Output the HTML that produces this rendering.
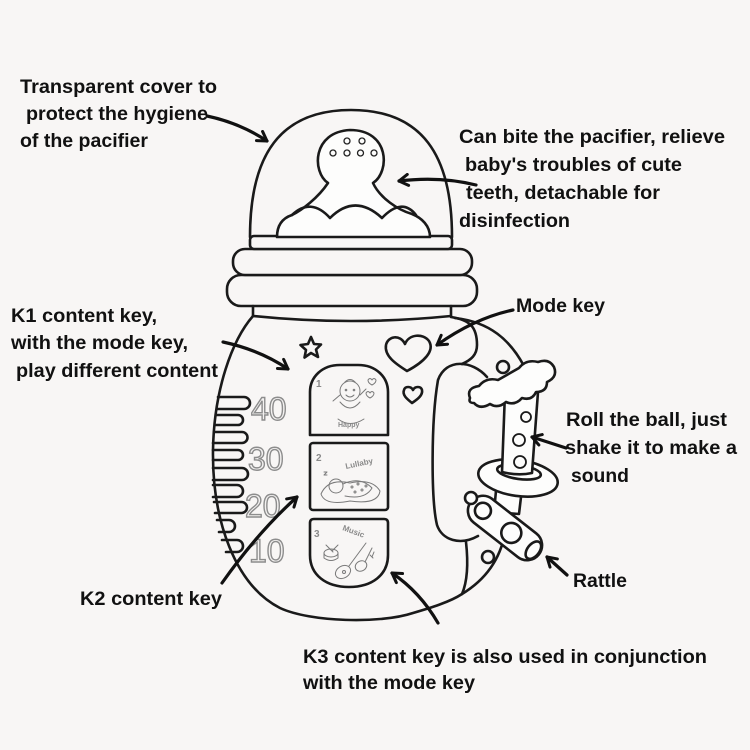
<!DOCTYPE html>
<html>
<head>
<meta charset="utf-8">
<style>
  html,body{margin:0;padding:0;background:#f8f6f5;}
  svg{display:block;}
  .t{font-family:"Liberation Sans",Arial,sans-serif;font-weight:bold;font-size:19.5px;fill:#111;}
  .o{fill:none;stroke:#1a1a1a;stroke-width:2.6;stroke-linecap:round;stroke-linejoin:round;}
  .w{fill:#fdfdfc;stroke:#1a1a1a;stroke-width:2.6;stroke-linejoin:round;}
  .b{fill:#f8f6f5;stroke:#1a1a1a;stroke-width:2.6;stroke-linejoin:round;}
  .a{fill:none;stroke:#111;stroke-width:3.2;stroke-linecap:round;}
  .g{fill:none;stroke:#7a7a7a;stroke-width:1;stroke-linecap:round;stroke-linejoin:round;}
  .gt{font-family:"Liberation Sans",Arial,sans-serif;font-weight:bold;fill:#8a8a8a;}
  .num{font-family:"Liberation Sans",Arial,sans-serif;font-size:32px;fill:#f4f2f1;stroke:#8d8d8d;stroke-width:1.4;}
</style>
</head>
<body>
<svg width="750" height="750" viewBox="0 0 750 750" xmlns="http://www.w3.org/2000/svg">
  <defs>
    <marker id="ah" viewBox="0 0 14 14" refX="11" refY="7" markerWidth="14" markerHeight="14" markerUnits="userSpaceOnUse" orient="auto">
      <path d="M2,1.5 L11,7 L2,12.5" fill="none" stroke="#111" stroke-width="3" stroke-linecap="round" stroke-linejoin="round"/>
    </marker>
  </defs>
  <rect width="750" height="750" fill="#f8f6f5"/>

  <!-- ===== Cap rings ===== -->
  <rect class="b" x="227" y="275" width="250" height="31" rx="14"/>
  <rect class="b" x="233" y="249" width="239" height="26" rx="12"/>
  <rect class="b" x="250" y="236" width="202" height="13" rx="4"/>

  <!-- Dome -->
  <path class="o" d="M250,237 C250,155 280,110 351,110 C422,110 452,155 452,237"/>

  <!-- Pacifier -->
  <path class="w" d="M277,237 C277,225 283,218 292,215 C302,210 318,198 328,183 C312,172 312,132 350,130 C390,130 390,172 373,183 C380,198 398,210 412,214 C422,218 430,226 430,237 Z"/>
  <path class="o" d="M292,215 Q311,197 330,218 M330,218 Q355,193 382,218 M382,218 Q402,197 416,215"/>
  <g fill="none" stroke="#222" stroke-width="1.3">
    <circle cx="347" cy="141" r="3"/><circle cx="362" cy="141" r="3"/>
    <circle cx="333" cy="153" r="3"/><circle cx="347" cy="153" r="3"/>
    <circle cx="360.5" cy="153" r="3"/><circle cx="374" cy="153" r="3"/>
  </g>

  <!-- Neck -->
  <path class="o" d="M253,306 V316 M451,306 V316"/>
  <path class="o" d="M253,316 Q350,326 451,316"/>

  <!-- ===== Body ===== -->
  <path class="o" d="M253,316 C232,340 214,390 213,450 C212,520 235,585 280,608 C310,622 380,624 413,613 C430,608 450,602 462,594 C485,580 500,560 505,533"/>
  <!-- body right edge upper -->
  <path class="o" d="M451,317 C470,320 477,327 477,345 C477,355 471,360 462,364"/>
  <!-- handle outer upper -->
  <path class="o" d="M455,318 C490,322 510,340 524,366"/>
  <!-- handle hole -->
  <path class="o" d="M487,377 C472,360 446,358 438,380 C431,420 431,500 437,525 C442,540 460,546 478,536"/>
  <!-- body right edge lower -->
  <path class="o" d="M466,542 C468,560 468,580 462,594"/>
  <circle class="o" cx="488" cy="557" r="6"/>

  <!-- scale ticks -->
  <g class="o" stroke-width="2.2">
    <path d="M218,397 H244 A6,6 0 0 1 244,409 H217"/>
    <path d="M216,415 H238 A5,5 0 0 1 238,425 H215"/>
    <path d="M214,432 H242 A5.5,5.5 0 0 1 242,443 H213"/>
    <path d="M213,450 H238 A5,5 0 0 1 238,460 H213"/>
    <path d="M213,468 H242 A6,6 0 0 1 242,480 H213"/>
    <path d="M213,485 H237 A6,6 0 0 1 237,497 H213"/>
    <path d="M214,502 H241.5 A5.5,5.5 0 0 1 241.5,513 H215"/>
    <path d="M217,520 H229 A6,6 0 0 1 229,532 H219"/>
    <path d="M222,540 H237 A6,6 0 0 1 237,552 H226"/>
  </g>
  <text class="num" x="251" y="420">40</text>
  <text class="num" x="248" y="470">30</text>
  <text class="num" x="245" y="517">20</text>
  <text class="num" x="249" y="562">10</text>

  <!-- star -->
  <path class="o" stroke-width="2" d="M311,337 L314,344 L321,344.5 L316,349.5 L318,357 L311,353 L304.5,357.5 L306,350 L300.5,345 L308,344 Z"/>
  <!-- hearts -->
  <path class="o" d="M407,371 C396,364 384,356 386,345 C388,336 400,334 405,344 C409,334 423,333 429,341 C435,351 424,362 407,371 Z"/>
  <path class="o" stroke-width="2" d="M412,403 C407,399 402,395 404,390 C405,386 411,386 413,390 C415,386 421,386 422,390 C423,395 418,399 412,403 Z"/>

  <!-- ===== Key panels ===== -->
  <path class="o" d="M310,435 V392 C310,377 322,365 340,365 H358 C376,365 388,377 388,392 V435 Z"/>
  <rect class="o" x="310" y="443" width="78" height="67" rx="3"/>
  <path class="o" d="M310,523 Q310,519 314,519 H384 Q388,519 388,523 V555 C388,575 372,587 349,587 C326,587 310,575 310,555 Z"/>

  <!-- panel 1 icon -->
  <text class="gt" x="316" y="387" font-size="10">1</text>
  <g class="g">
    <circle cx="350" cy="391" r="10"/>
    <path d="M345,382 Q350,377 355,382"/>
    <circle cx="346" cy="390" r="0.8"/><circle cx="354" cy="390" r="0.8"/>
    <path d="M346,395 Q350,399 354,395"/>
    <path d="M340,402 Q350,414 360,402"/>
    <path d="M340,395 L333,401 M360,395 L366,389"/>
    <path d="M368,380 q2,-3 4,0 q2,-3 4,0 q0,3 -4,5 q-4,-2 -4,-5z"/>
    <path d="M366,393 q2,-3 4,0 q2,-3 4,0 q0,3 -4,5 q-4,-2 -4,-5z"/>
    <path d="M338,419 Q350,428 364,419"/>
  </g>
  <text class="gt" x="338" y="427" font-size="7">Happy</text>

  <!-- panel 2 icon -->
  <text class="gt" x="316" y="461" font-size="10">2</text>
  <text class="gt" x="346" y="469" font-size="8" transform="rotate(-12 346 469)">Lullaby</text>
  <g class="g">
    <path d="M321,494 Q328,478 350,483 Q372,478 380,491 Q378,505 350,501 Q325,506 321,494 Z"/>
    <circle cx="336" cy="486" r="7"/>
    <path d="M343,484 Q360,476 372,488 Q365,500 345,496"/>
    <circle cx="352" cy="487" r="1"/><circle cx="358" cy="484" r="1"/><circle cx="362" cy="490" r="1"/><circle cx="355" cy="492" r="1"/><circle cx="366" cy="486" r="1"/>
    <path d="M324,472 l3,0 l-3,3 l3,0"/>
  </g>

  <!-- panel 3 icon -->
  <text class="gt" x="314" y="537" font-size="10">3</text>
  <text class="gt" x="342" y="530" font-size="8" transform="rotate(20 342 530)">Music</text>
  <g class="g">
    <ellipse cx="331" cy="553" rx="7" ry="4"/>
    <path d="M324,553 V558 Q331,563 338,558 V553"/>
    <path d="M326,545 L333,552 M338,545 L332,551"/>
    <ellipse cx="343" cy="572" rx="8" ry="6" transform="rotate(-30 343 572)"/>
    <path d="M349,566 L366,543"/>
    <ellipse cx="361" cy="566" rx="6" ry="5" transform="rotate(-30 361 566)"/>
    <path d="M365,562 L372,548"/>
    <circle cx="344" cy="572" r="1.5"/>
    <path d="M370,555 l3,3 M374,552 l-2,5"/>
  </g>

  <!-- ===== Rattle parts ===== -->
  <circle class="o" cx="503" cy="367" r="6"/>
  <!-- stem lower -->
  <path class="w" d="M497,480 L494,512 L519,514 L523,480 Z"/>
  <!-- ring -->
  <ellipse class="w" cx="518" cy="478" rx="40" ry="18" transform="rotate(8 518 478)"/>
  <ellipse class="w" cx="519" cy="472" rx="22" ry="7" transform="rotate(8 519 472)"/>
  <!-- stem upper -->
  <path class="w" d="M505,392 L502,472 Q518,476 532,473 L538,392 Z"/>
  <g fill="none" stroke="#1a1a1a" stroke-width="1.8">
    <circle cx="526" cy="417" r="5"/>
    <circle cx="519" cy="440" r="6"/>
    <circle cx="520" cy="462" r="6"/>
  </g>
  <!-- cloud -->
  <path class="w" d="M470,398 Q466,388 479,386 Q486,377 498,380 L519,368 Q526,359 538,362 Q549,358 554,367 Q558,377 547,382 Q547,392 536,392 Q532,401 522,398 Q515,406 506,402 Q498,409 490,404 Q480,410 474,403 Q468,403 470,398 Z"/>
  <!-- capsule -->
  <g transform="rotate(38 505 528)">
    <rect class="w" x="462" y="513" width="86" height="30" rx="15"/>
    <ellipse class="o" cx="541" cy="528" rx="6" ry="10" stroke-width="2"/>
    <circle class="o" cx="477" cy="528" r="8" stroke-width="2"/>
    <circle class="o" cx="513" cy="528" r="10" stroke-width="2"/>
  </g>
  <circle class="w" cx="471" cy="498" r="6" stroke-width="2"/>

  <!-- ===== Arrows ===== -->
  <path class="a" marker-end="url(#ah)" d="M207,116 Q240,123 267,141"/>
  <path class="a" marker-end="url(#ah)" d="M476,185 Q440,176 399,181"/>
  <path class="a" marker-end="url(#ah)" d="M513,310 Q475,318 437,345"/>
  <path class="a" marker-end="url(#ah)" d="M223,342 Q260,350 288,369"/>
  <path class="a" marker-end="url(#ah)" d="M222,583 Q258,532 297,497"/>
  <path class="a" marker-end="url(#ah)" d="M438,623 Q420,592 392,573"/>
  <path class="a" marker-end="url(#ah)" d="M566,448 L532,437"/>
  <path class="a" marker-end="url(#ah)" d="M567,575 L547,557"/>

  <!-- ===== Labels ===== -->
  <text class="t" x="20" y="93" textLength="197" lengthAdjust="spacingAndGlyphs">Transparent cover to</text>
  <text class="t" x="26" y="120" textLength="182" lengthAdjust="spacingAndGlyphs">protect the hygiene</text>
  <text class="t" x="20" y="147" textLength="128" lengthAdjust="spacingAndGlyphs">of the pacifier</text>

  <text class="t" x="459" y="143" textLength="266" lengthAdjust="spacingAndGlyphs">Can bite the pacifier, relieve</text>
  <text class="t" x="465" y="171" textLength="217" lengthAdjust="spacingAndGlyphs">baby's troubles of cute</text>
  <text class="t" x="466" y="199" textLength="194" lengthAdjust="spacingAndGlyphs">teeth, detachable for</text>
  <text class="t" x="459" y="227" textLength="111" lengthAdjust="spacingAndGlyphs">disinfection</text>

  <text class="t" x="516" y="312" textLength="89" lengthAdjust="spacingAndGlyphs">Mode key</text>

  <text class="t" x="11" y="322" textLength="146" lengthAdjust="spacingAndGlyphs">K1 content key,</text>
  <text class="t" x="11" y="349" textLength="177" lengthAdjust="spacingAndGlyphs">with the mode key,</text>
  <text class="t" x="16" y="377" textLength="202" lengthAdjust="spacingAndGlyphs">play different content</text>

  <text class="t" x="566" y="426" textLength="161" lengthAdjust="spacingAndGlyphs">Roll the ball, just</text>
  <text class="t" x="565" y="454" textLength="172" lengthAdjust="spacingAndGlyphs">shake it to make a</text>
  <text class="t" x="571" y="482" textLength="58" lengthAdjust="spacingAndGlyphs">sound</text>

  <text class="t" x="573" y="587" textLength="54" lengthAdjust="spacingAndGlyphs">Rattle</text>

  <text class="t" x="80" y="605" textLength="142" lengthAdjust="spacingAndGlyphs">K2 content key</text>

  <text class="t" x="303" y="663" textLength="404" lengthAdjust="spacingAndGlyphs">K3 content key is also used in conjunction</text>
  <text class="t" x="303" y="689" textLength="172" lengthAdjust="spacingAndGlyphs">with the mode key</text>
</svg>
</body>
</html>
